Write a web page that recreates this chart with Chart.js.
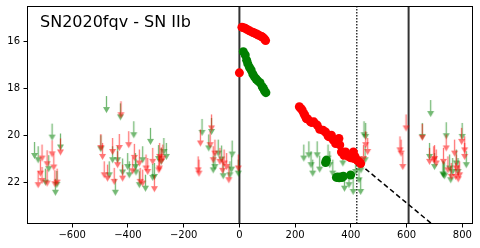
<!DOCTYPE html>
<html>
<head>
<meta charset="utf-8">
<script src="https://cdn.jsdelivr.net/npm/chart.js@4"></script>
<style>
  html, body { margin: 0; padding: 0; background: #fff; }
  #lc { display: block; }
</style>
</head>
<body>
<canvas id="lc" width="480" height="248"></canvas>
<script>
        // detections (days since explosion, magnitude)
        const rDetX = [0, 9, 14, 21, 28, 36, 44, 50, 56, 62, 68, 74, 80, 84, 90, 94,
            215, 220, 225, 231, 235, 240, 245, 255, 260, 267, 279, 288, 300, 309, 317, 320, 330, 337, 345, 350,
            357, 360, 366, 370, 375, 381, 388, 393, 400, 409, 411, 415, 423, 428, 435];
        const rDetY = [17.34, 15.40, 15.42, 15.45, 15.50, 15.55, 15.60, 15.63, 15.66, 15.69, 15.73, 15.77, 15.80, 15.83, 15.90, 15.97,
            18.78, 18.85, 18.92, 19.06, 19.15, 19.28, 19.30, 19.42, 19.45, 19.42, 19.56, 19.74, 19.78, 19.85, 19.99, 20.05, 19.99, 20.20, 20.34, 20.30,
            20.13, 20.40, 20.70, 20.70, 20.84, 20.70, 20.85, 20.91, 20.95, 20.70, 20.98, 20.90, 21.05, 21.10, 21.19];
        const gDetX = [14, 21, 26, 30, 36, 42, 48, 54, 60, 66, 74, 82, 86, 90, 95,
            309, 312, 348, 352, 358, 363, 368, 373, 399];
        const gDetY = [16.44, 16.58, 16.80, 16.95, 17.10, 17.22, 17.39, 17.51, 17.60, 17.68, 17.76, 17.93, 18.00, 18.10, 18.18,
            21.15, 21.05, 21.78, 21.76, 21.80, 21.76, 21.79, 21.73, 21.68];

        // upper limits
        const gLimX = [-735, -722, -672, -642, -684, -660, -696, -655,
            -477, -427, -379, -319, -497, -455, -437, -401, -373, -347, -305, -281, -262, -271, -467, -445, -395, -371, -359, -337, -311, -419, -290,
            -134, -100, -110, -76, -64, -26, -88, -94, -58, -4, -34, -28,
            231, 249, 257, 263, 279, 288, 318, 324, 335, 371, 377, 393, 408, 417, 429, 436, 435, 451, 447, 453,
            686, 656, 742, 799, 814, 682, 700, 732, 754, 765, 784, 736, 778, 758, 730];
        const gLimY = [20.87, 21.05, 20.09, 20.51, 21.43, 22.43, 22.00, 22.10,
            18.92, 19.23, 19.99, 20.27, 20.58, 21.05, 21.05, 21.34, 21.34, 21.05, 21.76, 21.12, 20.91, 20.70, 21.69, 22.43, 21.69, 21.57, 22.11, 22.26, 21.80, 21.57, 21.00,
            19.89, 19.85, 20.55, 20.77, 21.02, 20.81, 21.34, 21.48, 21.73, 21.62, 21.69, 21.45,
            20.98, 20.84, 21.26, 21.62, 20.84, 21.45, 20.98, 21.26, 21.62, 21.19, 22.26, 22.11, 22.40, 21.55, 21.90, 21.48, 22.40, 21.05, 19.99, 20.06,
            19.09, 20.06, 20.03, 20.06, 21.26, 20.91, 21.34, 21.69, 21.40, 21.55, 21.55, 21.73, 21.19, 21.90, 21.65];
        const rLimX = [-642, -672, -708, -690, -666, -714, -722, -690, -654, -662, -708,
            -425, -397, -431, -455, -491, -497, -437, -377, -359, -335, -311, -289, -275, -286, -473, -449, -419, -356, -347, -305, -329, -485, -383, -287, -280,
            -100, -140, -105, -88, -94, -55, -70, -46, -38, -4, -145, -148, -60,
            453, 460, 445,
            598, 576, 580, 586, 656, 797, 772, 742, 808, 808, 682, 697, 706, 732, 748, 760, 778, 790, 776, 785, 700];
        const rLimY = [20.72, 20.80, 20.98, 21.22, 21.36, 21.62, 22.11, 22.04, 22.00, 22.07, 21.93,
            19.14, 20.41, 20.53, 20.70, 20.91, 20.53, 21.26, 20.95, 21.19, 21.40, 21.12, 21.48, 20.98, 20.91, 21.83, 21.97, 21.83, 21.97, 22.04, 22.28, 21.55, 21.69, 21.52, 21.40, 21.10,
            19.70, 20.34, 20.41, 20.77, 21.05, 21.19, 21.12, 21.34, 21.90, 21.40, 21.62, 21.48, 21.50,
            20.41, 20.70, 21.00,
            19.70, 20.63, 20.77, 21.34, 20.10, 20.27, 20.77, 20.55, 20.63, 20.91, 21.12, 21.05, 21.19, 21.12, 21.48, 21.76, 21.40, 21.69, 21.76, 21.86, 21.00];

        // decay line and reference epochs
        const decayX = [430, 700];
        const decayY = [21.20, 23.85];
        const solidEpochs = [0, 607];
        const dottedEpochs = [421];

        const xRange = [-762, 838];
        const yRange = [14.5, 23.76];
        const xTicks = [-600, -400, -200, 0, 200, 400, 600, 800];
        const yTicks = [16, 18, 20, 22];
        const titleText = 'SN2020fqv - SN IIb';

        function pts(xs, ys) {
            return xs.map((x, i) => ({ x: x, y: ys[i] }));
        }

        // one filled polygon so the stem and head share a single alpha
        function makeArrow(color) {
            const c = document.createElement('canvas');
            c.width = 9;
            c.height = 30;
            const g = c.getContext('2d');
            g.fillStyle = color;
            g.beginPath();
            g.moveTo(3.85, 1);
            g.lineTo(5.15, 1);
            g.lineTo(5.15, 12);
            g.lineTo(8, 12);
            g.lineTo(4.5, 18);
            g.lineTo(1, 12);
            g.lineTo(3.85, 12);
            g.closePath();
            g.fill();
            return c;
        }

        function vline(x, dash, width) {
            return {
                type: 'line',
                data: [{ x: x, y: yRange[0] }, { x: x, y: yRange[1] }],
                borderColor: '#333',
                borderWidth: width,
                borderDash: dash,
                pointRadius: 0,
                fill: false
            };
        }

        const frameAndTitle = {
            id: 'frameAndTitle',
            afterDraw(chart) {
                const a = chart.chartArea;
                const ctx = chart.ctx;
                ctx.save();
                ctx.strokeStyle = '#000';
                ctx.lineWidth = 1;
                ctx.strokeRect(Math.round(a.left) + 0.5, Math.round(a.top) + 0.5,
                    Math.round(a.right - a.left) - 1, Math.round(a.bottom - a.top) - 1);
                ctx.fillStyle = '#000';
                ctx.font = '16px "DejaVu Sans"';
                ctx.textBaseline = 'alphabetic';
                ctx.fillText(titleText, a.left + 13, a.top + 21);
                ctx.restore();
            }
        };

        const tickFont = { family: 'DejaVu Sans', size: 10 };
        const fmt = v => v < 0 ? '\u2212' + Math.abs(v) : String(v);

        new Chart(document.getElementById('lc'), {
            type: 'scatter',
            data: {
                datasets: [
                    { data: pts(rDetX, rDetY), backgroundColor: '#ff0000', borderColor: '#ff0000', borderWidth: 0, pointRadius: 4.5 },
                    { data: pts(gDetX, gDetY), backgroundColor: '#008000', borderColor: '#008000', borderWidth: 0, pointRadius: 4.5 },
                    { data: pts(rLimX, rLimY), pointStyle: makeArrow('rgba(255,0,0,0.55)'), pointRadius: 5 },
                    { data: pts(gLimX, gLimY), pointStyle: makeArrow('rgba(0,128,0,0.55)'), pointRadius: 5 },
                    {
                        type: 'line', data: pts(decayX, decayY), borderColor: '#000', borderWidth: 1.5,
                        borderDash: [5, 3], pointRadius: 0, fill: false
                    },
                    ...solidEpochs.map(x => vline(x, [], 2)),
                    ...dottedEpochs.map(x => vline(x, [1.5, 1.5], 1.5))
                ]
            },
            options: {
                responsive: false,
                animation: false,
                devicePixelRatio: 1,
                layout: { padding: { left: 0, right: 7, top: 6, bottom: 0 } },
                plugins: { legend: { display: false }, tooltip: { enabled: false } },
                scales: {
                    x: {
                        type: 'linear',
                        min: xRange[0],
                        max: xRange[1],
                        afterBuildTicks: s => { s.ticks = xTicks.map(v => ({ value: v })); },
                        afterFit: s => { s.height = 24; s.paddingLeft = 0; s.paddingRight = 0; },
                        grid: { drawOnChartArea: false, drawTicks: true, tickLength: 3.5, color: '#000' },
                        border: { display: false },
                        ticks: { font: tickFont, color: '#000', padding: 2, maxRotation: 0, autoSkip: false, callback: fmt }
                    },
                    y: {
                        type: 'linear',
                        reverse: true,
                        min: yRange[0],
                        max: yRange[1],
                        afterBuildTicks: s => { s.ticks = yTicks.map(v => ({ value: v })); },
                        afterFit: s => { s.width = 27; s.paddingTop = 0; s.paddingBottom = 0; },
                        grid: { drawOnChartArea: false, drawTicks: true, tickLength: 3.5, color: '#000' },
                        border: { display: false },
                        ticks: { font: tickFont, color: '#000', padding: 3.5, autoSkip: false, callback: fmt }
                    }
                }
            },
            plugins: [frameAndTitle]
        });
</script>
</body>
</html>
